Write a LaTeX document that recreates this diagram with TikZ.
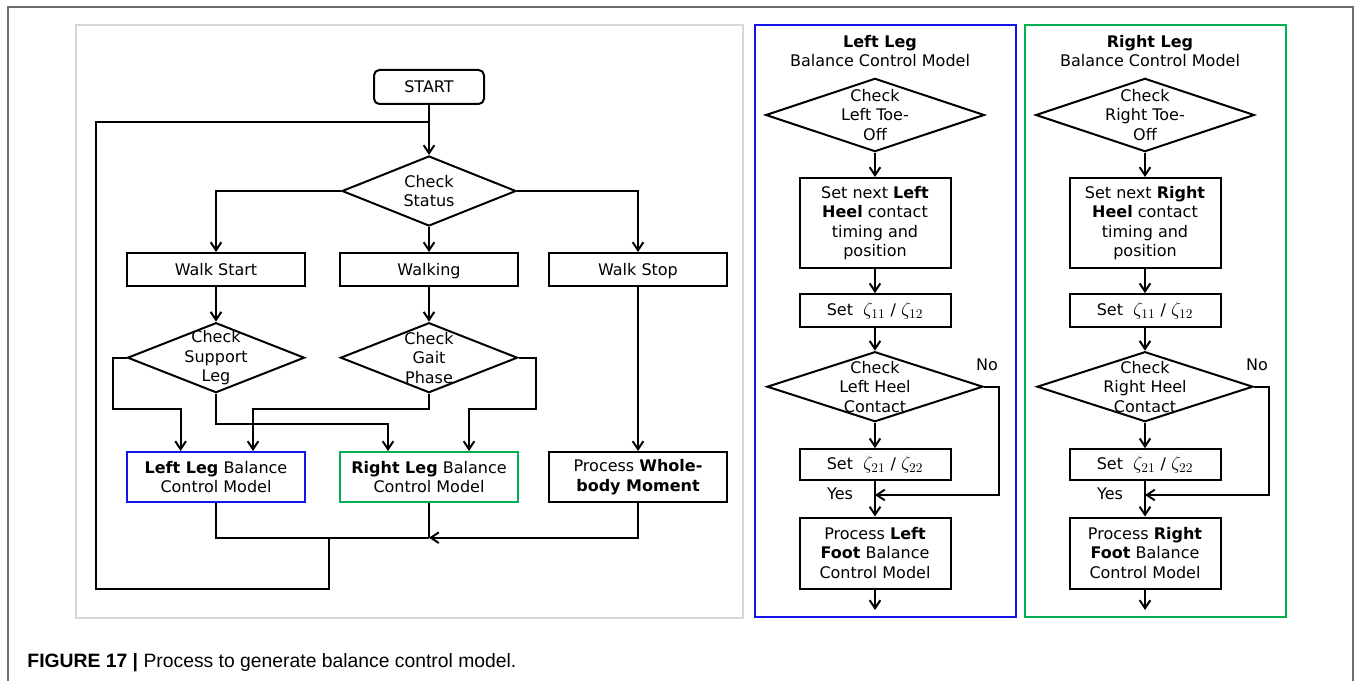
\documentclass[tikz,border=0pt]{standalone}
\usepackage{fontspec}
\setmainfont{DejaVu Sans}
\newfontfamily\capfont{Liberation Sans}
\usepackage{tikz}
\usetikzlibrary{positioning,shapes.geometric,arrows.meta}
\definecolor{legblue}{RGB}{20,20,235}
\definecolor{leggreen}{RGB}{0,176,80}
\definecolor{panelgray}{RGB}{215,215,215}
\definecolor{framegray}{RGB}{110,110,110}
\newcommand{\zt}[2]{{\fontsize{14}{14}\selectfont$\zeta_{#1}$}~/~{\fontsize{14}{14}\selectfont$\zeta_{#2}$}}

\begin{document}
\begin{tikzpicture}[x=0.75pt,y=-0.75pt,line width=1.5pt,
    every node/.style={font=\fontsize{12}{14.6}\selectfont},
    box/.style={draw, align=center, inner sep=0pt},
    onebox/.style={box, text height=8.8pt, text depth=0pt},
    dia/.style={draw, diamond, inner sep=0pt,
        label={[align=center]center:#1}},
    arr/.style={-{Straight Barb[length=6pt,width=8pt]}}]
    \useasboundingbox (0,0) rectangle (1354,681);
    % outer frame
    \draw[framegray, line width=1.2pt] (8,681) -- (8,7) -- (1353,7) -- (1353,681);

    % main process
    \draw[panelgray, line width=2pt] (76,25) rectangle (743,618);
    \node[onebox, rounded corners=4pt, minimum width=82.5pt, minimum height=25.5pt] (start) at (429,87) {START};
    \node[dia={Check\\Status}, minimum width=130.5pt, minimum height=52.5pt] (status) at (429,191) {};
    \node[onebox, minimum width=133.5pt, minimum height=24.75pt] (walkstart) at (216,269.5) {Walk Start};
    \node[onebox, minimum width=133.5pt, minimum height=24.75pt] (walking) at (429,269.5) {Walking};
    \node[onebox, minimum width=133.5pt, minimum height=24.75pt] (walkstop) at (638,269.5) {Walk Stop};
    \node[dia={Check\\Support\\Leg}, minimum width=132.75pt, minimum height=52.5pt] (support) at (216,357.7) {};
    \node[dia={Check\\Gait\\Phase}, minimum width=132.75pt, minimum height=52.5pt] (gait) at (429,357.7) {};
    \node[box, draw=legblue, minimum width=133.5pt, minimum height=37.5pt] (leftleg) at (216,477) {\textbf{Left Leg} Balance\\Control Model};
    \node[box, draw=leggreen, minimum width=133.5pt, minimum height=37.5pt] (rightleg) at (429,477) {\textbf{Right Leg} Balance\\Control Model};
    \node[box, minimum width=133.5pt, minimum height=37.5pt] (whole) at (638,477) {Process \textbf{Whole-}\\\textbf{body Moment}};

    \draw[arr] (start) -- (status);
    \draw[arr] (status.west) -| (walkstart);
    \draw[arr] (status) -- (walking);
    \draw[arr] (status.east) -| (walkstop);
    \draw[arr] (walkstart) -- (support);
    \draw[arr] (walking) -- (gait);
    \draw[arr] (walkstop) -- (whole);

    \coordinate (sl) at (180.6,409);
    \coordinate (sr) at (388,424);
    \coordinate (gl) at (253,409);
    \coordinate (gr) at (469,409);
    \draw[arr] (support.west) -| (112.5,409) -- (sl) -- (sl |- leftleg.north);
    \draw[arr] (support.south) |- (sr) -- (sr |- rightleg.north);
    \draw[arr] (gait.south) |- (gl) -- (gl |- leftleg.north);
    \draw[arr] (gait.east) -| (536,409) -- (gr) -- (gr |- rightleg.north);

    \coordinate (merge) at (429,537.7);
    \coordinate (back) at (329,537.7);
    \coordinate (join) at (429,121.7);
    \draw (leftleg.south) |- (merge);
    \draw (rightleg.south) -- (merge);
    \draw[arr] (whole.south) |- (merge);
    \draw (back) |- (96,589) |- (join);

    % leg models
    \foreach \side/\dx/\col in {Left/0/legblue, Right/270/leggreen}
    {
        \begin{scope}[xshift=\dx*0.75pt]
            \draw[\col, line width=2pt] (755,25) rectangle (1016,617);
            \node[align=center] (title\side) at (880,51) {\textbf{\side\ Leg}\\Balance Control Model};
            \node[dia={Check\\\side\ Toe-\\Off}, minimum width=164pt, minimum height=55pt] (toe\side) at (875,115) {};
            \node[box, minimum width=113.25pt, minimum height=67.5pt] (heel\side) at (875,223) {Set next \textbf{\side}\\\textbf{Heel} contact\\timing and\\position};
            \node[box, minimum width=113.25pt, minimum height=24.75pt] (zetaa\side) at (875,310.7) {Set\ \ \zt{11}{12}};
            \node[dia={Check\\\side\ Heel\\Contact}, minimum width=162pt, minimum height=52.5pt] (contact\side) at (875,386.7) {};
            \node[box, minimum width=113.25pt, minimum height=23.25pt] (zetab\side) at (875,464.7) {Set\ \ \zt{21}{22}};
            \node[box, minimum width=113.25pt, minimum height=53.25pt] (foot\side) at (875,553) {Process \textbf{\side}\\\textbf{Foot} Balance\\Control Model};
            \node (no\side) at (987,365) {No};
            \node (yes\side) at (840,494) {Yes};
            \coordinate (meet\side) at (875,495);
            \coordinate (out\side) at (875,610);

            \draw[arr] (toe\side) -- (heel\side);
            \draw[arr] (heel\side) -- (zetaa\side);
            \draw[arr] (zetaa\side) -- (contact\side);
            \draw[arr] (contact\side) -- (zetab\side);
            \draw[arr] (contact\side.east) -| (999.3,495) -- (meet\side);
            \draw[arr] (zetab\side) -- (foot\side);
            \draw[arr] (foot\side) -- (out\side);
        \end{scope}
    }

    \node[anchor=base west, font=\capfont\fontsize{14.5}{17}\selectfont] (caption) at (22,667) {\textbf{FIGURE 17 |} Process to generate balance control model.};
\end{tikzpicture}
\end{document}
